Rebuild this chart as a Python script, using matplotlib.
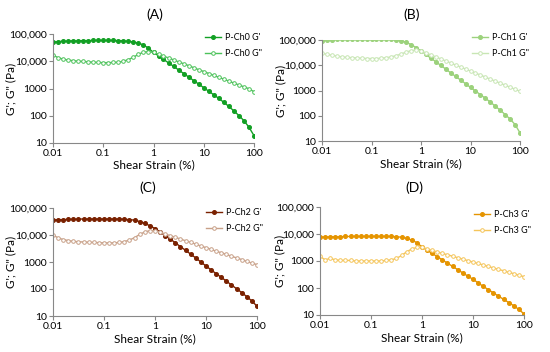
import numpy as np
import matplotlib
matplotlib.use('Agg')
import matplotlib.pyplot as plt

# Data
strain = [0.01, 0.0126, 0.0158, 0.02, 0.0251, 0.0316, 0.0398, 0.0501, 0.0631, 0.0794,
          0.1, 0.126, 0.158, 0.2, 0.251, 0.316, 0.398, 0.501, 0.631, 0.794,
          1, 1.26, 1.58, 2, 2.51, 3.16, 3.98, 5.01, 6.31, 7.94,
          10, 12.6, 15.8, 20, 25.1, 31.6, 39.8, 50.1, 63.1, 79.4, 100]

ch0_g1 = [50000, 53000, 54000, 55000, 56000, 56000, 57000, 57000, 58000, 58000,
          58000, 58000, 58000, 57000, 56000, 54000, 51000, 46000, 40000, 30000,
          21000, 15800, 11700, 8700, 6500, 4800, 3550, 2630, 1950, 1450,
          1070, 790, 590, 430, 310, 220, 150, 102, 66, 38, 18.6]
ch0_g2 = [17000, 13500, 12000, 11000, 10500, 10000, 9800, 9500, 9200, 9000,
          8900, 8900, 9000, 9200, 10000, 11500, 14000, 18000, 21500, 22500,
          21000, 18200, 15500, 13200, 11200, 9500, 8100, 6900, 5800, 4900,
          4200, 3550, 3000, 2570, 2200, 1860, 1580, 1350, 1150, 980, 760]

ch1_g1 = [93000, 100000, 102000, 105000, 107000, 107000, 110000, 110000, 110000, 110000,
          110000, 110000, 110000, 107000, 105000, 100000, 93000, 81000, 66000, 50000,
          37000, 27000, 19000, 13800, 9800, 7100, 5000, 3600, 2600, 1860,
          1320, 950, 690, 490, 350, 240, 166, 112, 74, 45, 21]
ch1_g2 = [30000, 27000, 25000, 23000, 21500, 20500, 20000, 19500, 19000, 18500,
          18500, 18500, 19000, 20000, 21500, 24000, 28000, 33000, 38000, 40000,
          37000, 31000, 25700, 21400, 17800, 14800, 12300, 10200, 8500, 7100,
          5900, 4900, 4100, 3400, 2800, 2350, 1950, 1620, 1350, 1120, 930]

ch2_g1 = [35500, 37000, 37000, 38000, 38000, 39000, 39000, 39000, 39000, 39000,
          39000, 39000, 39000, 39000, 38000, 37000, 35500, 31500, 27000, 22000,
          17400, 12900, 9500, 7100, 5100, 3700, 2700, 1950, 1410, 1000,
          710, 510, 370, 270, 195, 141, 102, 74, 52, 36, 23]
ch2_g2 = [10000, 7800, 6800, 6200, 5800, 5600, 5500, 5400, 5300, 5200,
          5100, 5100, 5100, 5300, 5700, 6500, 8000, 10500, 13000, 14500,
          14500, 12600, 11000, 9400, 8200, 7100, 6100, 5300, 4600, 3900,
          3400, 2950, 2500, 2200, 1900, 1640, 1420, 1230, 1050, 910, 800]

ch3_g1 = [7600, 7800, 7800, 7900, 7900, 8100, 8100, 8100, 8100, 8100,
          8100, 8100, 8100, 8100, 8100, 7900, 7600, 6900, 5900, 4800,
          3300, 2500, 1900, 1450, 1100, 830, 630, 480, 360, 275,
          210, 155, 115, 87, 66, 50, 38, 29, 22, 16, 11]
ch3_g2 = [1500, 1100, 1250, 1100, 1050, 1050, 1050, 1000, 1000, 1000,
          1000, 1000, 1000, 1050, 1100, 1250, 1600, 2200, 2800, 3200,
          3300, 2800, 2450, 2180, 1900, 1700, 1500, 1320, 1170, 1030,
          910, 810, 710, 630, 550, 490, 435, 380, 340, 295, 263]

panels = [
    ('(A)', 'P-Ch0', ch0_g1, ch0_g2, '#12a024', '#4cc25a'),
    ('(B)', 'P-Ch1', ch1_g1, ch1_g2, '#9cd27c', '#c8e6b4'),
    ('(C)', 'P-Ch2', ch2_g1, ch2_g2, '#7a2100', '#c8a088'),
    ('(D)', 'P-Ch3', ch3_g1, ch3_g2, '#e59400', '#f5c55a'),
]

# axes rectangles in pixels (left, top, right, bottom)
W, H = 550, 352
rects = [(53, 34, 254, 143), (322, 40, 520, 141), (53, 208, 257, 316), (320, 207, 524, 315)]
titles_xy = [(155, 15), (412, 15), (148, 188), (414, 188)]
legend_xy = [(205, 33), (472, 33), (206, 208), (474, 210)]
ylabel_x = [11, 281, 11, 280]
xlabel_y = [165, 164, 339, 338]

plt.rc('font', family=['Lato', 'DejaVu Sans'])

fig = plt.figure(figsize=(W/100, H/100), dpi=100)

for (title, name, g1, g2, c1, c2), (l, t, r, b), (tx, ty), (lx, ly), yx, xy in zip(
        panels, rects, titles_xy, legend_xy, ylabel_x, xlabel_y):
    ax = fig.add_axes([l/W, 1-b/H, (r-l)/W, (b-t)/H])
    ax.plot(strain, g1, '-o', color=c1, lw=1, markersize=2.6, mfc=c1, mec=c1, label=name + " G'")
    ax.plot(strain, g2, '-o', color=c2, lw=1, markersize=2.6, mfc='white', mec=c2, mew=0.7, label=name + ' G"')
    ax.set_xscale('log')
    ax.set_yscale('log')
    ax.set_xlim(0.01, 100)
    ax.set_ylim(10, 100000)
    ax.set_xticks([0.01, 0.1, 1, 10, 100])
    ax.set_xticklabels(['0.01', '0.1', '1', '10', '100'])
    ax.set_yticks([10, 100, 1000, 10000, 100000])
    ax.set_yticklabels(['10', '100', '1000', '10,000', '100,000'])
    ax.minorticks_off()
    for s in ['top', 'right']:
        ax.spines[s].set_visible(False)
    for s in ['left', 'bottom']:
        ax.spines[s].set_color('#888888')
        ax.spines[s].set_linewidth(0.8)
    ax.tick_params(axis='both', labelsize=7.5, length=3, width=0.8, color='#888888', pad=1.5)
    ax.set_xlabel('Shear Strain (%)', fontsize=8.5)
    ax.set_ylabel('G\'; G" (Pa)', fontsize=8.5)
    ax.yaxis.set_label_coords((yx - l)/(r - l), 0.5)
    ax.xaxis.set_label_coords(0.5, -(xy - b)/(b - t))
    ax.xaxis.label.set_va('center')
    ax.yaxis.label.set_va('center')
    ax.legend(loc='upper left', bbox_to_anchor=(lx/W, 1-ly/H), bbox_transform=fig.transFigure,
              frameon=False, fontsize=6.5, handlelength=1.8, handletextpad=0.4,
              borderpad=0, borderaxespad=0, labelspacing=0.8)
    fig.text(tx/W, 1-ty/H, title, fontsize=10, ha='center', va='center')

fig.savefig('out.png', dpi=100)
